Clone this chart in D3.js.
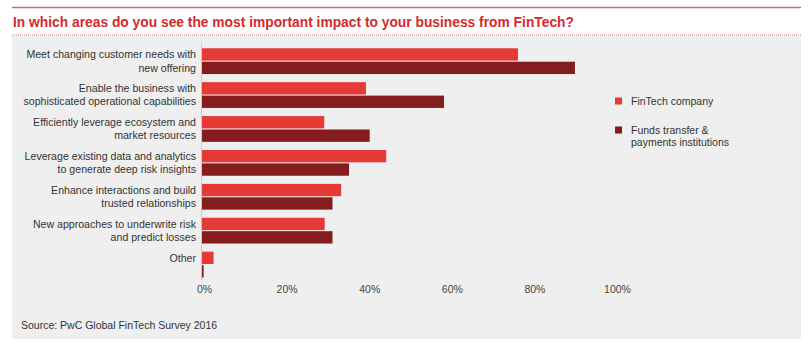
<!DOCTYPE html>
<html>
<head>
<meta charset="utf-8">
<script src="https://cdn.jsdelivr.net/npm/d3@7"></script>
<style>
  html, body { margin: 0; padding: 0; background: #ffffff; }
  svg { display: block; font-family: "Liberation Sans", Arial, Helvetica, sans-serif; }
</style>
</head>
<body>
<svg id="chart" width="812" height="355"></svg>
<script>
// ---- Data ----
const categories = [
  ["Meet changing customer needs with", "new offering"],
  ["Enable the business with", "sophisticated operational capabilities"],
  ["Efficiently leverage ecosystem and", "market resources"],
  ["Leverage existing data and analytics", "to generate deep risk insights"],
  ["Enhance interactions and build", "trusted relationships"],
  ["New approaches to underwrite risk", "and predict losses"],
  ["Other"]
];
const seriesNames = ["FinTech company", "Funds transfer & payments institutions"];
const fintechValues = [76.5, 39.7, 29.6, 44.6, 33.7, 29.7, 2.8];
const fundsValues   = [90.3, 58.6, 40.6, 35.6, 31.6, 31.6, 0.4];
const tickValues = [0, 20, 40, 60, 80, 100];
const tickLabels = ["0%", "20%", "40%", "60%", "80%", "100%"];
const titleText = "In which areas do you see the most important impact to your business from FinTech?";
const sourceText = "Source: PwC Global FinTech Survey 2016";

const colors = ["#e63a37", "#851c1e"];

const svg = d3.select("#chart");

// frame
svg.append("rect").attr("x", 12).attr("y", 36).attr("width", 789).attr("height", 303).attr("fill", "#efefef");
svg.append("line").attr("x1", 12).attr("x2", 801).attr("y1", 7.5).attr("y2", 7.5)
  .attr("stroke", "#e06666").attr("stroke-width", 1.6);
svg.append("line").attr("x1", 12).attr("x2", 801).attr("y1", 35).attr("y2", 35)
  .attr("stroke", "#e06666").attr("stroke-width", 1.2).attr("stroke-dasharray", "1,1");
svg.append("text").attr("x", 13).attr("y", 27).text(titleText)
  .attr("fill", "#d42a2a").attr("font-weight", "bold").attr("font-size", 13.8);

// scales
const idx = categories.map((d, i) => i);
const y0 = d3.scaleBand().domain(idx).range([44.2, 281.5]).paddingInner(0.24).paddingOuter(0.12);
const y1 = d3.scaleBand().domain([0, 1]).range([0, y0.bandwidth()]).paddingInner(0.08);
const x = d3.scaleLinear().domain([0, 100]).range([202, 615]);

const series = [fintechValues, fundsValues];

const g = svg.append("g");
idx.forEach(i => {
  series.forEach((vals, s) => {
    g.append("rect")
      .attr("x", x(0))
      .attr("y", y0(i) + y1(s))
      .attr("width", Math.max(0, x(vals[i]) - x(0)))
      .attr("height", y1.bandwidth())
      .attr("fill", colors[s]);
  });
  categories[i].forEach((line, k) => {
    g.append("text")
      .attr("x", 196)
      .attr("y", y0(i) + y1(k) + y1.bandwidth() / 2)
      .attr("dy", "0.35em")
      .attr("text-anchor", "end")
      .attr("font-size", 10.6)
      .attr("fill", "#333")
      .text(line);
  });
});

// vertical axis line
svg.append("line").attr("x1", 201.5).attr("x2", 201.5).attr("y1", 43).attr("y2", 280)
  .attr("stroke", "#c8c8c8").attr("stroke-width", 1);

// x axis
const xAxis = d3.axisBottom(x).tickValues(tickValues).tickFormat((d, i) => tickLabels[i]).tickSize(0).tickPadding(0);
const ax = svg.append("g").attr("transform", "translate(2,286)").call(xAxis);
ax.select(".domain").remove();
ax.selectAll("text").attr("font-size", 10.5).attr("fill", "#444").attr("font-family", "Liberation Sans, Arial, sans-serif");

// legend
const legendNames = [["FinTech company"], ["Funds transfer &", "payments institutions"]];
const legendY = [101, 130];
legendNames.forEach((lines, s) => {
  svg.append("rect").attr("x", 615).attr("y", legendY[s] - 3.5).attr("width", 7).attr("height", 7).attr("fill", colors[s]);
  lines.forEach((t, k) => {
    svg.append("text").attr("x", 631).attr("y", legendY[s] + k * 12).attr("dy", "0.35em")
      .attr("font-size", 10.5).attr("fill", "#333").text(t);
  });
});

// source
svg.append("text").attr("x", 21).attr("y", 325).attr("dy", "0.35em")
  .attr("font-size", 10.5).attr("fill", "#333").text(sourceText);
</script>
</body>
</html>
